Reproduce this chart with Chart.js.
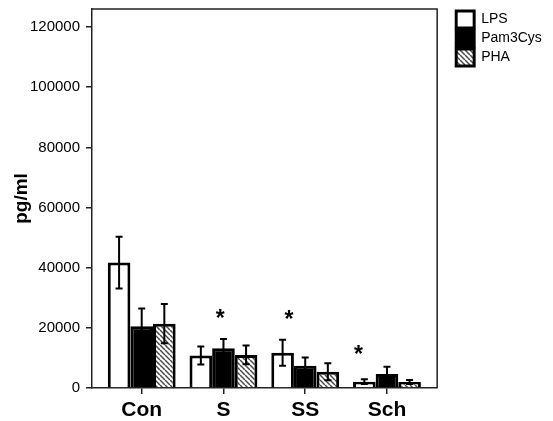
<!DOCTYPE html>
<html>
<head>
<meta charset="utf-8">
<script src="https://cdn.jsdelivr.net/npm/chart.js@4.4.1/dist/chart.umd.min.js"></script>
<style>
  html, body { margin: 0; padding: 0; background: #fff; }
  #wrap { width: 553px; height: 421px; }
</style>
</head>
<body>
<div id="wrap"><canvas id="chart"></canvas></div>
<script>
// Data
const categories = ['Con', 'S', 'SS', 'Sch'];
const lpsValues = [41700, 10800, 11700, 2100];
const lpsErrors = [8600, 3000, 4300, 800];
const pamValues = [20500, 13200, 7400, 4650];
const pamErrors = [5900, 3100, 2700, 2450];
const phaValues = [21400, 11000, 5400, 2000];
const phaErrors = [6500, 3100, 2800, 700];
const yTicks = [0, 20000, 40000, 60000, 80000, 100000, 120000];
// significance marks: x in category units (1 = Con), y in pg/ml
const starX = [1.96, 2.80, 3.65];
const starY = [23600, 23300, 11900];

const FONT = "'Liberation Sans', Arial, sans-serif";

function hatchPattern() {
    const s = 5;
    const c = document.createElement('canvas');
    c.width = s; c.height = s;
    const g = c.getContext('2d');
    g.fillStyle = '#fff';
    g.fillRect(0, 0, s, s);
    g.strokeStyle = '#4a4a4a';
    g.lineWidth = 1.5;
    [-s, 0, s].forEach(o => {
        g.beginPath();
        g.moveTo(o, 0);
        g.lineTo(o + s, s);
        g.stroke();
    });
    return g.createPattern(c, 'repeat');
}

function toPoints(values) {
    return values.map((v, i) => ({ x: i + 1, y: v }));
}

// error bars drawn from the y scale
const errorBars = {
    id: 'errorBars',
    afterDatasetsDraw(chart) {
        const ctx = chart.ctx;
        const y = chart.scales.y;
        ctx.save();
        ctx.strokeStyle = '#000';
        ctx.lineWidth = 2;
        chart.data.datasets.forEach((ds, di) => {
            const meta = chart.getDatasetMeta(di);
            meta.data.forEach((bar, i) => {
                const v = ds.data[i].y;
                const e = ds.errors[i];
                const top = y.getPixelForValue(v + e);
                const bot = y.getPixelForValue(Math.max(0, v - e));
                const half = 3.5;
                ctx.beginPath();
                ctx.moveTo(bar.x, top);
                ctx.lineTo(bar.x, bot);
                ctx.moveTo(bar.x - half, top);
                ctx.lineTo(bar.x + half, top);
                ctx.moveTo(bar.x - half, bot);
                ctx.lineTo(bar.x + half, bot);
                ctx.stroke();
            });
        });
        ctx.restore();
    }
};

// asterisks and the top/right frame
const marks = {
    id: 'marks',
    afterDraw(chart) {
        const ctx = chart.ctx;
        const xs = chart.scales.x, ys = chart.scales.y;
        const a = chart.chartArea;
        ctx.save();
        ctx.strokeStyle = '#222';
        ctx.lineWidth = 1.5;
        ctx.beginPath();
        ctx.moveTo(a.left, a.top);
        ctx.lineTo(a.right, a.top);
        ctx.lineTo(a.right, a.bottom);
        ctx.stroke();
        ctx.fillStyle = '#000';
        ctx.font = 'bold 23px ' + FONT;
        ctx.textAlign = 'center';
        ctx.textBaseline = 'middle';
        starX.forEach((sx, i) => {
            ctx.fillText('*', xs.getPixelForValue(sx), ys.getPixelForValue(starY[i]) + 3);
        });
        ctx.restore();
    }
};

const chart = new Chart(document.getElementById('chart'), {
    type: 'bar',
    data: {
        datasets: [{
            label: 'LPS',
            data: toPoints(lpsValues),
            errors: lpsErrors,
            backgroundColor: '#fff',
            borderColor: '#000',
            borderWidth: 3
        }, {
            label: 'Pam3Cys',
            data: toPoints(pamValues),
            errors: pamErrors,
            backgroundColor: '#000',
            borderColor: '#000',
            borderWidth: 3
        }, {
            label: 'PHA',
            data: toPoints(phaValues),
            errors: phaErrors,
            backgroundColor: hatchPattern(),
            borderColor: '#000',
            borderWidth: 3
        }]
    },
    options: {
        responsive: true,
        maintainAspectRatio: false,
        animation: false,
        layout: { padding: { top: 9, right: 8, left: 0, bottom: 0 } },
        datasets: {
            bar: { categoryPercentage: 0.83, barPercentage: 1.0 }
        },
        plugins: {
            tooltip: { enabled: false },
            legend: {
                position: 'right',
                align: 'start',
                labels: {
                    color: '#000',
                    font: { family: FONT, size: 14 },
                    boxWidth: 18,
                    boxHeight: 17,
                    padding: 2
                }
            }
        },
        scales: {
            x: {
                type: 'linear',
                min: 0.392,
                max: 4.614,
                offset: false,
                grid: { display: true, offset: false, drawOnChartArea: false, drawTicks: true, tickLength: 6, color: '#222', lineWidth: 1.5 },
                border: { display: true, color: '#222', width: 1.5 },
                ticks: {
                    autoSkip: false,
                    maxRotation: 0,
                    padding: 4,
                    color: '#000',
                    font: { family: FONT, size: 21, weight: 'bold' },
                    callback: (v) => categories[v - 1] || ''
                },
                afterBuildTicks: (s) => { s.ticks = categories.map((c, i) => ({ value: i + 1 })); },
                afterFit: (s) => { s.height = 33; s.paddingLeft = 0; s.paddingRight = 0; }
            },
            y: {
                min: 0,
                max: 126000,
                grid: { display: true, drawOnChartArea: false, drawTicks: true, tickLength: 6, color: '#222', lineWidth: 1.5 },
                border: { display: true, color: '#222', width: 1.5 },
                ticks: {
                    padding: 6,
                    color: '#000',
                    font: { family: FONT, size: 15 },
                    callback: (v) => String(v)
                },
                afterBuildTicks: (s) => { s.ticks = yTicks.map(v => ({ value: v })); },
                afterFit: (s) => { s.width = 92; s.paddingTop = 0; s.paddingBottom = 0; },
                title: {
                    display: true,
                    text: 'pg/ml',
                    color: '#000',
                    font: { family: FONT, size: 19, weight: 'bold' },
                    padding: { top: 10, bottom: 0 }
                }
            },
            y2: {
                position: 'right',
                display: true,
                grid: { display: false },
                border: { display: false },
                ticks: { display: false },
                afterFit: (s) => { s.width = 17; s.paddingTop = 0; s.paddingBottom = 0; }
            }
        }
    },
    plugins: [errorBars, marks]
});
</script>
</body>
</html>
